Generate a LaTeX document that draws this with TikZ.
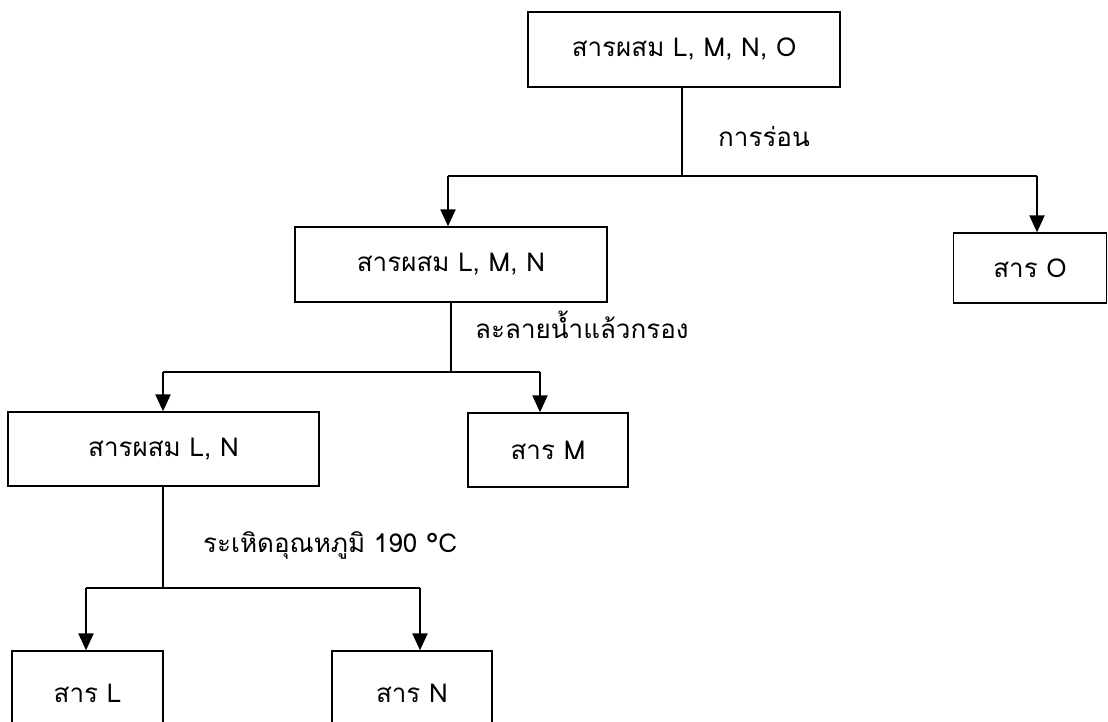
\documentclass[tikz,border=0pt]{standalone}
\usepackage{fontspec}
\newfontfamily\thaifont[Script=Thai]{Loma}
\usetikzlibrary{arrows.meta}

\begin{document}
\begin{tikzpicture}[x=1pt,y=1pt]
    \tikzstyle{every node}+=[inner sep=0pt, font=\thaifont\fontsize{26}{30}\selectfont]
    \tikzstyle{box}=[draw=black, line width=1.3pt, minimum height=75pt]
    \tikzstyle{stem}=[black, line width=1.8pt]
    \tikzstyle{arr}=[black, line width=2.2pt, -{Triangle[length=17pt,width=15pt]}]
    \useasboundingbox (0,0) rectangle (1108,-722);
    \clip (0,0) rectangle (1108,-722);
    % boxes
    \node [box, minimum width=312pt] (lmno) at (684,-49.5) {สารผสม L, M, N, O};
    \node [box, minimum width=312pt] (lmn) at (451,-264.5) {สารผสม L, M, N};
    \node [box, minimum width=153pt, minimum height=70pt] (o) at (1030,-268) {สาร O};
    \node [box, minimum width=311pt, minimum height=74pt] (ln) at (163.5,-449) {สารผสม L, N};
    \node [box, minimum width=160pt, minimum height=74pt] (m) at (548,-450) {สาร M};
    \node [box, minimum width=151pt, minimum height=84pt] (l) at (87.5,-693) {สาร L};
    \node [box, minimum width=160pt, minimum height=84pt] (n) at (412,-693) {สาร N};
    % labels
    \node [anchor=west] (heat) at (718,-136) {การร่อน};
    \node [anchor=west] (filter) at (475,-325) {ละลายน้ำแล้วกรอง};
    \node [anchor=west] (subl) at (203,-545) {ระเหิดอุณหภูมิ 190 °C};
    % split under L, M, N, O
    \coordinate (s1) at (682,-176);
    \coordinate (s1l) at (448,-176);
    \coordinate (s1r) at (1037,-176);
    \draw [stem] (s1 |- lmno.south) -- (s1);
    \draw [stem] (s1l) -- (s1r);
    \draw [arr] (s1l) -- (s1l |- lmn.north);
    \draw [arr] (s1r) -- (s1r |- o.north);
    % split under L, M, N
    \coordinate (s2) at (451,-372);
    \coordinate (s2l) at (163,-372);
    \coordinate (s2r) at (540,-372);
    \draw [stem] (s2 |- lmn.south) -- (s2);
    \draw [stem] (s2l) -- (s2r);
    \draw [arr] (s2l) -- (s2l |- ln.north);
    \draw [arr] (s2r) -- (s2r |- m.north);
    % split under L, N
    \coordinate (s3) at (163,-588);
    \coordinate (s3l) at (86,-588);
    \coordinate (s3r) at (420,-588);
    \draw [stem] (s3 |- ln.south) -- (s3);
    \draw [stem] (s3l) -- (s3r);
    \draw [arr] (s3l) -- (s3l |- l.north);
    \draw [arr] (s3r) -- (s3r |- n.north);
\end{tikzpicture}
\end{document}
